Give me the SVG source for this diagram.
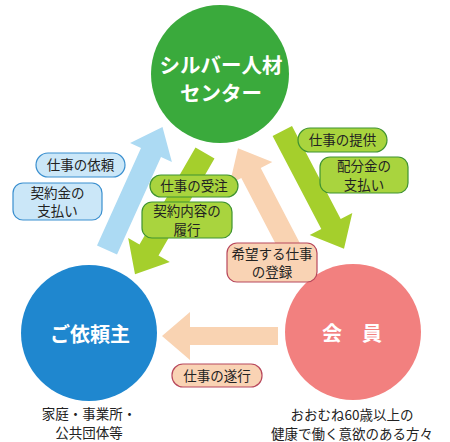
<svg xmlns="http://www.w3.org/2000/svg" width="450" height="442" viewBox="0 0 450 442">
<style>
.t{font-family:"Noto Sans CJK JP","Noto Sans",sans-serif;fill:#222;font-size:13.5px;text-anchor:middle}
.c{font-family:"Noto Sans CJK JP","Noto Sans",sans-serif;fill:#fff;font-weight:bold;text-anchor:middle}
.lb{fill:#cbe7f8;stroke:#3a8fcf;stroke-width:1.2}
.lg{fill:#a9d43e;stroke:#3f9330;stroke-width:1.2}
.lp{fill:#f9d3b4;stroke:#b8485c;stroke-width:1.2}
.ab{fill:#acdaf3}
.ag{fill:#a5cf2c}
.ap{fill:#f9d3b2}
</style>
<rect width="450" height="442" fill="#fff"/>
<g id="center">
<circle cx="220" cy="74" r="69" fill="#3aaa3c"/>
<text class="c" x="221" y="72.5" font-size="20.5">シルバー人材</text>
<text class="c" x="221" y="100.5" font-size="20.5">センター</text>
</g>
<g id="client">
<circle cx="89" cy="333" r="68" fill="#1f87cf"/>
<text class="c" x="90" y="342" font-size="20">ご依頼主</text>
<text class="t" x="89" y="419" font-size="13">家庭・事業所・</text>
<text class="t" x="89" y="438" font-size="13">公共団体等</text>
</g>
<g id="member">
<circle cx="353" cy="332" r="68" fill="#f2807f"/>
<text class="c" x="352" y="341" font-size="20">会　員</text>
<text class="t" x="352" y="420">おおむね60歳以上の</text>
<text class="t" x="352" y="439">健康で働く意欲のある方々</text>
</g>
<g id="connectors">
<polygon class="ab" points="117,254.5 161,157 171.9,161.9 162.5,127 130.1,143.1 141,148 97,245.5"/>
<polygon class="ag" points="214.5,158.5 158.5,255.5 169.8,262 135,274.2 128.2,238 139.5,244.5 195.5,147.5"/>
<polygon class="ag" points="272.6,136.1 292,125.9 340.7,218.9 352.3,212.9 344,248.8 309.7,235.1 321.3,229.1"/>
<polygon class="ap" points="307.1,256.9 260.7,167.9 272.3,161.9 238,148.2 229.7,184.1 241.3,178.1 287.7,267.1"/>
<polygon class="ap" points="278,327 190,327 190,312 162,336 190,360 190,345 278,345"/>
</g>
<g id="label-irai">
<rect class="lb" x="36" y="153" width="89" height="24" rx="12"/>
<text class="t" x="80.5" y="170">仕事の依頼</text>
</g>
<g id="label-keiyakukin">
<rect class="lb" x="13" y="183" width="89" height="37" rx="10"/>
<text class="t" x="57.5" y="197.5">契約金の</text>
<text class="t" x="57.5" y="216">支払い</text>
</g>
<g id="label-juchu">
<rect class="lg" x="150" y="175" width="88" height="22" rx="11"/>
<text class="t" x="194" y="191">仕事の受注</text>
</g>
<g id="label-rikou">
<rect class="lg" x="142" y="202" width="90" height="36" rx="10"/>
<text class="t" x="187" y="216">契約内容の</text>
<text class="t" x="187" y="234.5">履行</text>
</g>
<g id="label-teikyo">
<rect class="lg" x="298" y="128" width="89" height="24" rx="12"/>
<text class="t" x="342.5" y="145">仕事の提供</text>
</g>
<g id="label-haibunkin">
<rect class="lg" x="320" y="157" width="88" height="36" rx="10"/>
<text class="t" x="364" y="171">配分金の</text>
<text class="t" x="364" y="189.5">支払い</text>
</g>
<g id="label-touroku">
<rect class="lp" x="227" y="243" width="90" height="39" rx="10"/>
<text class="t" x="272" y="258.5">希望する仕事</text>
<text class="t" x="272" y="277">の登録</text>
</g>
<g id="label-suikou">
<rect class="lp" x="172" y="364" width="90" height="23" rx="11"/>
<text class="t" x="217" y="380.5">仕事の遂行</text>
</g>
</svg>
